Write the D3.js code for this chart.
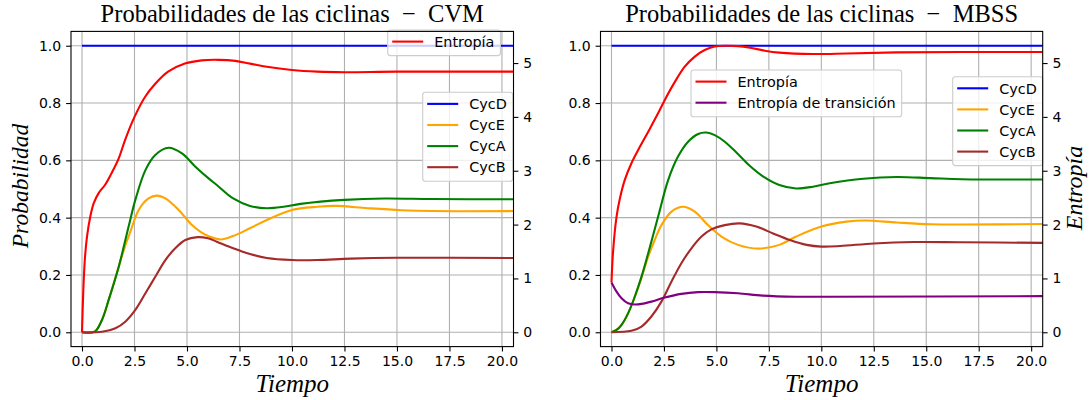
<!DOCTYPE html>
<html>
<head>
<meta charset="utf-8">
<script src="https://cdn.jsdelivr.net/npm/d3@7"></script>
<style>
  body { margin: 0; background: #fff; }
  svg { display: block; }
</style>
</head>
<body>
<div id="chart"></div>
<script>
/*global d3*/
// ticks
const timeTicks = [0, 2.5, 5, 7.5, 10, 12.5, 15, 17.5, 20]
const probTicks = [0, 0.2, 0.4, 0.6, 0.8, 1.0]
const entropyTicks = [0, 1, 2, 3, 4, 5]
const entropyMax = 5.3219 // top of the twin axis data range

const cyclinNames = ["CycD", "CycE", "CycA", "CycB"]
const cyclinColors = ["blue", "orange", "green", "brown"]
const entropyNames = ["Entropía", "Entropía de transición"]
const entropyColors = ["red", "purple"]

// --- CVM (left) : probabilities ---
const cvmCycDT = [0, 20.6]
const cvmCycD = [1, 1]
const cvmCycET = [0, 0.6, 0.95, 1.27, 1.75, 2.05, 2.3, 2.7, 3.17, 3.57, 3.97, 4.6, 5.24, 5.63, 6.03, 6.6, 7.2, 8.0, 8.8, 10, 11.2, 12.1, 13.6, 15.2, 16.7, 20.6]
const cvmCycE = [0, 0.002, 0.043, 0.113, 0.229, 0.3, 0.35, 0.427, 0.467, 0.477, 0.467, 0.427, 0.374, 0.351, 0.335, 0.324, 0.336, 0.363, 0.392, 0.427, 0.438, 0.441, 0.433, 0.426, 0.423, 0.423]
const cvmCycAT = [0, 0.6, 0.95, 1.27, 1.75, 2.22, 2.54, 3.02, 3.49, 4.13, 4.76, 5.4, 6.03, 6.42, 7.2, 8.0, 8.8, 9.6, 10.4, 12.5, 14.4, 16.7, 20.6]
const cvmCycA = [0, 0.002, 0.043, 0.113, 0.229, 0.369, 0.462, 0.566, 0.619, 0.644, 0.624, 0.578, 0.537, 0.514, 0.467, 0.441, 0.433, 0.438, 0.448, 0.462, 0.467, 0.465, 0.464]
const cvmCycBT = [0, 0.95, 1.59, 2.06, 2.54, 3.02, 3.49, 3.97, 4.44, 4.92, 5.5, 6.0, 6.42, 7.2, 8.0, 8.8, 10, 11.2, 12.8, 15, 20.6]
const cvmCycB = [0, 0.002, 0.014, 0.037, 0.078, 0.136, 0.194, 0.252, 0.293, 0.322, 0.332, 0.328, 0.316, 0.293, 0.273, 0.259, 0.252, 0.252, 0.257, 0.26, 0.259]
// CVM entropy (right axis units)
const cvmEntT = [0, 0.06, 0.14, 0.24, 0.4, 0.56, 0.8, 1.1, 1.4, 1.75, 2.05, 2.5, 3.0, 3.5, 4.1, 4.9, 5.7, 6.5, 7.3, 8.0, 8.8, 10, 11.2, 12.5, 15, 20.6]
const cvmEnt = [0, 0.75, 1.38, 1.78, 2.16, 2.4, 2.59, 2.74, 2.95, 3.23, 3.57, 4.0, 4.37, 4.62, 4.84, 4.99, 5.05, 5.06, 5.04, 4.99, 4.93, 4.87, 4.84, 4.83, 4.84, 4.84]

// --- MBSS (right) : probabilities ---
const mbssCycDT = [0, 20.6]
const mbssCycD = [1, 1]
const mbssCycET = [0, 0.24, 0.48, 0.79, 1.11, 1.43, 1.75, 2.06, 2.38, 2.86, 3.41, 3.97, 4.6, 5.24, 6.03, 7.0, 8.0, 8.8, 10, 11.2, 12.1, 13.6, 15.2, 16.7, 20.6]
const mbssCycE = [0, 0.008, 0.026, 0.066, 0.124, 0.19, 0.264, 0.322, 0.374, 0.421, 0.438, 0.421, 0.374, 0.334, 0.305, 0.292, 0.305, 0.334, 0.369, 0.386, 0.39, 0.383, 0.377, 0.376, 0.378]
const mbssCycAT = [0, 0.24, 0.48, 0.79, 1.11, 1.43, 1.75, 2.22, 2.7, 3.17, 3.65, 4.13, 4.52, 4.92, 5.4, 6.0, 6.6, 7.2, 8.0, 8.8, 9.6, 10.4, 12.0, 13.6, 15.2, 16.7, 20.6]
const mbssCycA = [0, 0.008, 0.026, 0.066, 0.124, 0.194, 0.276, 0.403, 0.531, 0.613, 0.665, 0.692, 0.697, 0.688, 0.665, 0.624, 0.58, 0.545, 0.514, 0.502, 0.508, 0.52, 0.536, 0.542, 0.538, 0.534, 0.533]
const mbssCycBT = [0, 0.95, 1.43, 1.9, 2.38, 2.86, 3.33, 3.81, 4.29, 4.76, 5.4, 6.1, 6.9, 7.7, 8.5, 9.3, 10, 10.9, 12.5, 14.4, 16.7, 20.6]
const mbssCycB = [0, 0.005, 0.02, 0.055, 0.107, 0.177, 0.241, 0.293, 0.334, 0.359, 0.374, 0.38, 0.369, 0.345, 0.322, 0.305, 0.299, 0.301, 0.31, 0.315, 0.314, 0.312]
// MBSS entropies (right axis units)
const mbssEntT = [0, 0.08, 0.24, 0.4, 0.63, 0.95, 1.27, 1.75, 2.22, 2.54, 3.02, 3.49, 3.97, 4.44, 4.92, 5.4, 6.03, 6.6, 7.3, 8.0, 9.6, 11.2, 13.6, 16.7, 20.6]
const mbssEnt = [0.926, 1.527, 2.145, 2.485, 2.826, 3.14, 3.385, 3.725, 4.066, 4.316, 4.651, 4.933, 5.12, 5.242, 5.306, 5.322, 5.315, 5.285, 5.23, 5.194, 5.168, 5.178, 5.199, 5.205, 5.205]
const mbssTransT = [0, 0.24, 0.48, 0.79, 1.11, 1.43, 1.9, 2.54, 3.33, 4.13, 4.92, 6.03, 7.2, 8.8, 10.4, 20.6]
const mbssTrans = [0.926, 0.756, 0.633, 0.538, 0.516, 0.527, 0.569, 0.644, 0.713, 0.745, 0.745, 0.724, 0.681, 0.66, 0.66, 0.671]

const zipSeries = (t, v) => t.map((d, i) => [d, v[i]])

const panels = [
  {
    id: "cvm",
    left: 71, right: 513.5,
    title: "Probabilidades de las ciclinas\u2002\u2212\u2002CVM",
    cyclins: [zipSeries(cvmCycDT, cvmCycD), zipSeries(cvmCycET, cvmCycE), zipSeries(cvmCycAT, cvmCycA), zipSeries(cvmCycBT, cvmCycB)],
    entropies: [zipSeries(cvmEntT, cvmEnt)],
    cycLegend: { x: 422.7, y: 92.3 },
    entLegend: { x: 387.7, y: 30 },
    yLabel: true, y2Label: false,
  },
  {
    id: "mbss",
    left: 600.5, right: 1042.7,
    title: "Probabilidades de las ciclinas\u2002\u2212\u2002MBSS",
    cyclins: [zipSeries(mbssCycDT, mbssCycD), zipSeries(mbssCycET, mbssCycE), zipSeries(mbssCycAT, mbssCycA), zipSeries(mbssCycBT, mbssCycB)],
    entropies: [zipSeries(mbssEntT, mbssEnt), zipSeries(mbssTransT, mbssTrans)],
    cycLegend: { x: 952.7, y: 76.7 },
    entLegend: { x: 691, y: 70 },
    yLabel: false, y2Label: true,
  },
]

const plotTop = 31.4, plotBottom = 346.6
const tickFont = "'DejaVu Sans', sans-serif"
const serif = "'Liberation Serif', 'DejaVu Serif', serif"

const svg = d3.select("#chart").append("svg").attr("width", 1092).attr("height", 400)

function drawLegend(g, items, pos) {
  const fs = 14.4, rowH = 21.1
  const box = g.append("rect")
  const h = 4.5 + rowH * items.length
  let maxW = 0
  items.forEach((it, i) => {
    const cy = pos.y + 11.6 + i * rowH
    g.append("line")
      .attr("x1", pos.x + 4.5).attr("x2", pos.x + 35.5)
      .attr("y1", cy).attr("y2", cy)
      .attr("stroke", it.color).attr("stroke-width", 2.1)
    const t = g.append("text")
      .attr("x", pos.x + 46.5).attr("y", cy + 5.2)
      .attr("font-family", tickFont).attr("font-size", fs)
      .attr("fill", "#000")
      .text(it.name)
    maxW = Math.max(maxW, t.node().getComputedTextLength())
  })
  box.attr("x", pos.x).attr("y", pos.y)
    .attr("width", 46.5 + maxW + 6).attr("height", h)
    .attr("rx", 2.8)
    .attr("fill", "white").attr("fill-opacity", 0.8)
    .attr("stroke", "#cccccc").attr("stroke-width", 1.1)
}

panels.forEach(p => {
  const x = d3.scaleLinear().domain([-0.524, 20.55]).range([p.left, p.right])
  const y = d3.scaleLinear().domain([-0.05, 1.05]).range([plotBottom, plotTop])
  const y2 = d3.scaleLinear().domain([-0.05 * entropyMax, 1.05 * entropyMax]).range([plotBottom, plotTop])

  const g = svg.append("g").attr("class", p.id)

  svg.append("clipPath").attr("id", "clip-" + p.id)
    .append("rect").attr("x", p.left).attr("y", plotTop).attr("width", p.right - p.left).attr("height", plotBottom - plotTop)

  // grid
  const grid = g.append("g").attr("stroke", "#b0b0b0").attr("stroke-width", 1.1)
  grid.selectAll(".vg").data(timeTicks).join("line")
    .attr("x1", d => x(d)).attr("x2", d => x(d)).attr("y1", plotTop).attr("y2", plotBottom)
  grid.selectAll(".hg").data(probTicks).join("line")
    .attr("x1", p.left).attr("x2", p.right).attr("y1", d => y(d)).attr("y2", d => y(d))

  // axes
  const xAxis = g.append("g").attr("transform", `translate(0,${plotBottom})`)
    .call(d3.axisBottom(x).tickValues(timeTicks).tickFormat(d3.format(".1f")).tickSize(4.9).tickPadding(4.9))
  const yAxis = g.append("g").attr("transform", `translate(${p.left},0)`)
    .call(d3.axisLeft(y).tickValues(probTicks).tickFormat(d3.format(".1f")).tickSize(4.9).tickPadding(4.9))
  const y2Axis = g.append("g").attr("transform", `translate(${p.right},0)`)
    .call(d3.axisRight(y2).tickValues(entropyTicks).tickFormat(d3.format("d")).tickSize(4.9).tickPadding(4.9))
  ;[xAxis, yAxis, y2Axis].forEach(a => {
    a.select(".domain").remove()
    a.selectAll("line").attr("stroke", "#000").attr("stroke-width", 1.1)
    a.selectAll("text").attr("font-family", tickFont).attr("font-size", 14).attr("fill", "#000")
  })

  const curve = d3.curveCatmullRom.alpha(0.5)
  const line = d3.line().x(d => x(d[0])).y(d => y(d[1])).curve(curve)
  const line2 = d3.line().x(d => x(d[0])).y(d => y2(d[1])).curve(curve)

  // cyclin probabilities
  g.append("g").attr("clip-path", `url(#clip-${p.id})`)
    .selectAll("path").data(p.cyclins).join("path")
    .attr("d", line).attr("fill", "none")
    .attr("stroke", (d, i) => cyclinColors[i]).attr("stroke-width", 2.1)

  drawLegend(g.append("g"), cyclinNames.map((n, i) => ({ name: n, color: cyclinColors[i] })), p.cycLegend)

  // entropies on twin axis
  g.append("g").attr("clip-path", `url(#clip-${p.id})`)
    .selectAll("path").data(p.entropies).join("path")
    .attr("d", line2).attr("fill", "none")
    .attr("stroke", (d, i) => entropyColors[i]).attr("stroke-width", 2.1)

  drawLegend(g.append("g"), p.entropies.map((d, i) => ({ name: entropyNames[i], color: entropyColors[i] })), p.entLegend)

  // frame
  g.append("rect").attr("x", p.left).attr("y", plotTop)
    .attr("width", p.right - p.left).attr("height", plotBottom - plotTop)
    .attr("fill", "none").attr("stroke", "#000").attr("stroke-width", 1.1)

  // title and labels
  const cx = (p.left + p.right) / 2
  g.append("text").attr("x", cx).attr("y", 22).attr("text-anchor", "middle")
    .attr("font-family", serif).attr("font-size", 24.5).text(p.title)
  g.append("text").attr("x", cx).attr("y", 392).attr("text-anchor", "middle")
    .attr("font-family", serif).attr("font-style", "italic").attr("font-size", 25).text("Tiempo")
  if (p.yLabel) {
    g.append("text").attr("transform", "translate(28,186) rotate(-90)").attr("text-anchor", "middle")
      .attr("font-family", serif).attr("font-style", "italic").attr("font-size", 23.5).text("Probabilidad")
  }
  if (p.y2Label) {
    g.append("text").attr("transform", "translate(1081.7,188) rotate(-90)").attr("text-anchor", "middle")
      .attr("font-family", serif).attr("font-style", "italic").attr("font-size", 24).text("Entropía")
  }
})
</script>
</body>
</html>
